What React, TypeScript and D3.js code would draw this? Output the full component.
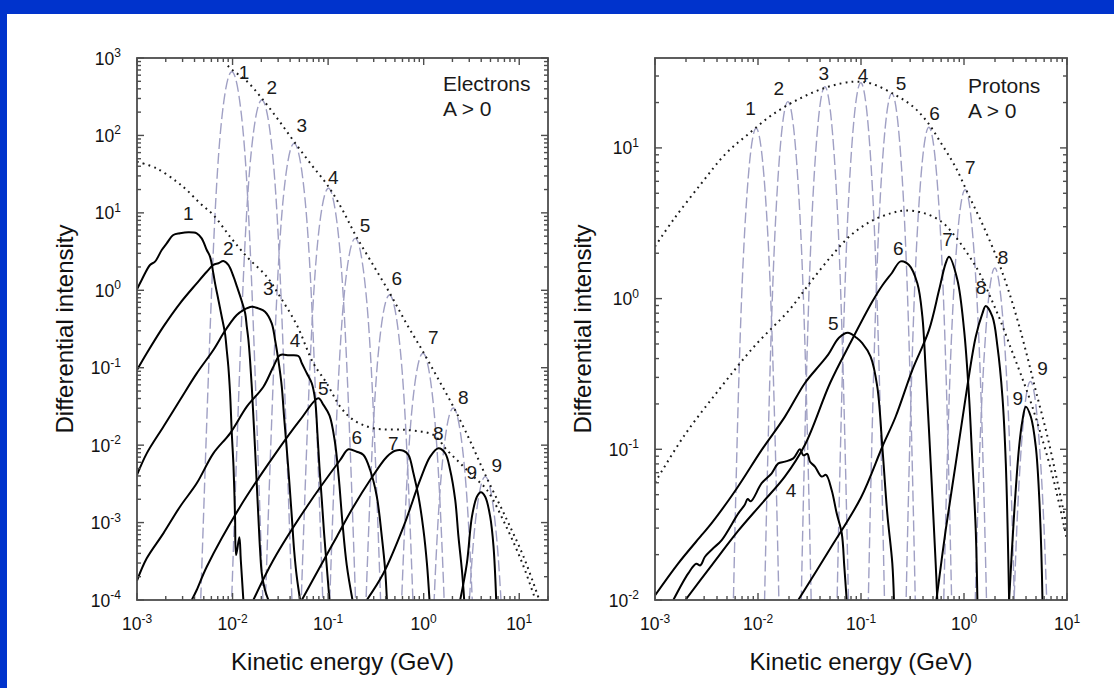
import React from "react";
import * as d3 from "d3";

// Every curve point is [log10 kinetic energy (GeV), log10 differential intensity].
type Pt = [number, number];
type Label = [string, number, number];

// ---------- Electrons, A > 0 ----------
const eUpperEnvelope: Pt[] = [
  [-2.05, 2.9], [-2.008, 2.85], [-1.85, 2.7], [-1.694, 2.48], [-1.52, 2.2], [-1.356, 1.92],
  [-1.18, 1.63], [-0.997, 1.34], [-0.85, 1.04], [-0.717, 0.72], [-0.55, 0.37], [-0.358, -0.03],
  [-0.18, -0.43], [-0.008, -0.79], [0.15, -1.14], [0.309, -1.5], [0.48, -1.93], [0.644, -2.38],
  [0.85, -2.91], [1.045, -3.44], [1.21, -4.0],
];
const eLowerEnvelope: Pt[] = [
  [-3, 1.661], [-2.795, 1.575], [-2.584, 1.402], [-2.48, 1.295], [-2.34, 1.123], [-2.201, 0.973],
  [-2.026, 0.692], [-1.851, 0.434], [-1.642, 0.176], [-1.503, -0.083], [-1.328, -0.448],
  [-1.154, -0.943], [-1.014, -1.201], [-0.874, -1.503], [-0.735, -1.675], [-0.526, -1.782],
  [-0.176, -1.804], [0.103, -1.869], [0.243, -2.063], [0.382, -2.234], [0.522, -2.407],
  [0.662, -2.579], [0.871, -3.07], [1.04, -3.55], [1.17, -4.0],
];

const eSource1: Pt[] = [[-2.338, -4.177], [-2.208, 0.323], [-2.108, 2.273], [-2.008, 2.823], [-1.908, 2.273], [-1.808, 0.323], [-1.678, -4.177]];
const eSource2: Pt[] = [[-2.024, -4.542], [-1.894, -0.042], [-1.794, 1.908], [-1.694, 2.458], [-1.594, 1.908], [-1.494, -0.042], [-1.364, -4.542]];
const eSource3: Pt[] = [[-1.686, -5.102], [-1.556, -0.602], [-1.456, 1.348], [-1.356, 1.898], [-1.256, 1.348], [-1.156, -0.602], [-1.026, -5.102]];
const eSource4: Pt[] = [[-1.327, -5.683], [-1.197, -1.183], [-1.097, 0.767], [-0.997, 1.317], [-0.897, 0.767], [-0.797, -1.183], [-0.667, -5.683]];
const eSource5: Pt[] = [[-1.047, -6.33], [-0.917, -1.83], [-0.817, 0.12], [-0.717, 0.67], [-0.617, 0.12], [-0.517, -1.83], [-0.387, -6.33]];
const eSource6: Pt[] = [[-0.688, -7.061], [-0.558, -2.561], [-0.458, -0.611], [-0.358, -0.061], [-0.258, -0.611], [-0.158, -2.561], [-0.028, -7.061]];
const eSource7: Pt[] = [[-0.338, -7.814], [-0.208, -3.314], [-0.108, -1.364], [-0.008, -0.814], [0.092, -1.364], [0.192, -3.314], [0.322, -7.814]];
const eSource8: Pt[] = [[-0.021, -8.52], [0.109, -4.02], [0.209, -2.07], [0.309, -1.52], [0.409, -2.07], [0.509, -4.02], [0.639, -8.52]];
const eSource9: Pt[] = [[0.314, -9.407], [0.444, -4.907], [0.544, -2.957], [0.644, -2.407], [0.744, -2.957], [0.844, -4.907], [0.974, -9.407]];

const eMod1: Pt[] = [
  [-3, 0.013], [-2.951, 0.133], [-2.864, 0.327], [-2.812, 0.37], [-2.741, 0.52], [-2.689, 0.606],
  [-2.62, 0.714], [-2.55, 0.736], [-2.463, 0.749], [-2.375, 0.736], [-2.323, 0.671], [-2.27, 0.52],
  [-2.236, 0.434], [-2.201, 0.219], [-2.183, 0.09], [-2.148, -0.125], [-2.113, -0.341],
  [-2.079, -0.556], [-2.061, -0.771], [-2.044, -0.987], [-2.026, -1.33], [-2.008, -1.847],
  [-1.99, -2.278], [-1.974, -2.924], [-1.963, -3.419], [-1.929, -3.19], [-1.914, -3.48], [-1.887, -4.0],
];
const eMod2: Pt[] = [
  [-3, -1.03], [-2.898, -0.814], [-2.724, -0.47], [-2.55, -0.168], [-2.375, 0.09], [-2.27, 0.24],
  [-2.201, 0.327], [-2.148, 0.349], [-2.096, 0.378], [-2.044, 0.327], [-1.99, 0.176], [-1.954, 0.047],
  [-1.902, -0.147], [-1.868, -0.297], [-1.851, -0.469], [-1.834, -0.642], [-1.817, -0.9],
  [-1.799, -1.245], [-1.782, -1.633], [-1.764, -2.063], [-1.747, -2.494], [-1.73, -2.924],
  [-1.712, -3.354], [-1.694, -3.656], [-1.66, -3.875], [-1.625, -4.0],
];
const eMod3: Pt[] = [
  [-3, -2.385], [-2.898, -2.106], [-2.724, -1.762], [-2.55, -1.417], [-2.375, -1.073], [-2.201, -0.771],
  [-2.096, -0.556], [-2.026, -0.427], [-1.956, -0.319], [-1.887, -0.255], [-1.799, -0.212],
  [-1.73, -0.233], [-1.66, -0.276], [-1.59, -0.427], [-1.555, -0.642], [-1.521, -0.9],
  [-1.485, -1.245], [-1.461, -1.633], [-1.432, -2.063], [-1.405, -2.494], [-1.38, -2.924],
  [-1.356, -3.354], [-1.328, -3.699], [-1.293, -4.0],
];
const eMod4: Pt[] = [
  [-3, -3.75], [-2.898, -3.462], [-2.724, -3.139], [-2.55, -2.795], [-2.375, -2.493], [-2.201, -2.106],
  [-2.026, -1.847], [-1.851, -1.503], [-1.677, -1.245], [-1.573, -0.987], [-1.503, -0.836],
  [-1.41, -0.84], [-1.311, -0.849], [-1.275, -0.943], [-1.223, -1.072], [-1.171, -1.201],
  [-1.136, -1.417], [-1.112, -1.847], [-1.091, -2.278], [-1.066, -2.708], [-1.042, -3.139],
  [-1.014, -3.57], [-0.986, -4.0],
];
const eMod5: Pt[] = [
  [-2.427, -4.0], [-2.375, -3.871], [-2.27, -3.57], [-1.921, -2.795], [-1.573, -2.149], [-1.293, -1.675],
  [-1.102, -1.395], [-1.049, -1.48], [-0.985, -1.62], [-0.93, -1.95], [-0.89, -2.4], [-0.85, -3.0],
  [-0.805, -3.55], [-0.745, -4.0],
];
const eMod6: Pt[] = [
  [-1.782, -4.0], [-1.573, -3.483], [-1.223, -2.795], [-0.874, -2.192], [-0.787, -2.054], [-0.7, -2.085],
  [-0.63, -2.127], [-0.56, -2.321], [-0.49, -2.666], [-0.438, -3.182], [-0.403, -3.612], [-0.385, -4.0],
];
const eMod7: Pt[] = [
  [-1.275, -4.0], [-1.084, -3.57], [-0.909, -3.182], [-0.735, -2.795], [-0.56, -2.45], [-0.385, -2.149],
  [-0.298, -2.072], [-0.212, -2.072], [-0.159, -2.127], [-0.107, -2.364], [-0.054, -2.666],
  [-0.002, -3.096], [0.034, -3.526], [0.061, -4.0],
];
const eMod8: Pt[] = [
  [-0.595, -4.0], [-0.421, -3.655], [-0.211, -3.053], [-0.037, -2.45], [0.068, -2.149], [0.155, -2.041],
  [0.225, -2.105], [0.277, -2.321], [0.33, -2.708], [0.364, -3.182], [0.4, -3.612], [0.424, -4.0],
];
const eMod9: Pt[] = [
  [0.382, -4.0], [0.452, -3.526], [0.505, -2.924], [0.557, -2.666], [0.599, -2.609], [0.644, -2.666],
  [0.696, -2.924], [0.731, -3.311], [0.759, -4.0],
];

const eSourceLabels: Label[] = [
  ["1", -1.88, 2.823], ["2", -1.59, 2.629], ["3", -1.276, 2.135], ["4", -0.946, 1.467], ["5", -0.614, 0.843],
  ["6", -0.282, 0.155], ["7", 0.101, -0.599], ["8", 0.415, -1.374], ["9", 0.764, -2.256],
];
const eModLabels: Label[] = [
  ["1", -2.463, 0.994], ["2", -2.045, 0.542], ["3", -1.626, 0.026], ["4", -1.347, -0.642], ["5", -1.05, -1.266],
  ["6", -0.701, -1.891], ["7", -0.318, -1.976], ["8", 0.153, -1.847], ["9", 0.503, -2.343],
];

// ---------- Protons, A > 0 ----------
const pUpperEnvelope: Pt[] = [
  [-3, 0.346], [-2.822, 0.523], [-2.548, 0.766], [-2.309, 0.965], [-2.104, 1.086], [-1.864, 1.219],
  [-1.59, 1.329], [-1.317, 1.406], [-1.077, 1.439], [-0.906, 1.428], [-0.666, 1.351], [-0.495, 1.274],
  [-0.358, 1.174], [-0.222, 1.031], [-0.085, 0.876], [0.052, 0.677], [0.189, 0.479], [0.326, 0.258],
  [0.429, 0.06], [0.531, -0.17], [0.62, -0.4], [0.7, -0.62], [0.805, -0.9], [0.908, -1.22], [1.0, -1.52],
];
const pLowerEnvelope: Pt[] = [
  [-3, -1.221], [-2.719, -0.912], [-2.377, -0.603], [-2.035, -0.316], [-1.693, -0.073], [-1.522, 0.081],
  [-1.317, 0.258], [-1.111, 0.413], [-0.906, 0.512], [-0.701, 0.568], [-0.564, 0.585], [-0.393, 0.568],
  [-0.222, 0.512], [-0.085, 0.413], [0.052, 0.28], [0.15, 0.17], [0.25, 0.02], [0.35, -0.14],
  [0.45, -0.32], [0.55, -0.5], [0.65, -0.69], [0.75, -0.91], [0.85, -1.15], [0.93, -1.38], [1.0, -1.6],
];

const pSource1: Pt[] = [[-2.348, -5.87], [-2.218, -1.37], [-2.118, 0.58], [-2.018, 1.13], [-1.918, 0.58], [-1.818, -1.37], [-1.688, -5.87]];
const pSource2: Pt[] = [[-2.04, -5.693], [-1.91, -1.193], [-1.81, 0.757], [-1.71, 1.307], [-1.61, 0.757], [-1.51, -1.193], [-1.38, -5.693]];
const pSource3: Pt[] = [[-1.681, -5.594], [-1.551, -1.094], [-1.451, 0.856], [-1.351, 1.406], [-1.251, 0.856], [-1.151, -1.094], [-1.021, -5.594]];
const pSource4: Pt[] = [[-1.332, -5.568], [-1.202, -1.068], [-1.102, 0.882], [-1.002, 1.432], [-0.902, 0.882], [-0.802, -1.068], [-0.672, -5.568]];
const pSource5: Pt[] = [[-1.031, -5.638], [-0.901, -1.138], [-0.801, 0.812], [-0.701, 1.362], [-0.601, 0.812], [-0.501, -1.138], [-0.371, -5.638]];
const pSource6: Pt[] = [[-0.671, -5.863], [-0.541, -1.363], [-0.441, 0.587], [-0.341, 1.137], [-0.241, 0.587], [-0.141, -1.363], [-0.011, -5.863]];
const pSource7: Pt[] = [[-0.319, -6.278], [-0.189, -1.778], [-0.089, 0.172], [0.011, 0.722], [0.111, 0.172], [0.211, -1.778], [0.341, -6.278]];
const pSource8: Pt[] = [[-0.031, -6.797], [0.099, -2.297], [0.199, -0.347], [0.299, 0.203], [0.399, -0.347], [0.499, -2.297], [0.629, -6.797]];
const pSource9: Pt[] = [[0.315, -7.55], [0.445, -3.05], [0.545, -1.1], [0.645, -0.55], [0.745, -1.1], [0.845, -3.05], [0.975, -7.55]];

const pMod4: Pt[] = [
  [-2.822, -2.0], [-2.677, -1.823], [-2.6, -1.76], [-2.56, -1.77], [-2.515, -1.713], [-2.44, -1.66],
  [-2.352, -1.602], [-2.191, -1.425], [-2.13, -1.37], [-2.1, -1.33], [-2.07, -1.345], [-1.964, -1.225],
  [-1.867, -1.159], [-1.803, -1.093], [-1.738, -1.082], [-1.657, -1.06], [-1.592, -1.0], [-1.56, -1.04],
  [-1.52, -1.03], [-1.495, -1.082], [-1.447, -1.115], [-1.382, -1.181], [-1.34, -1.17], [-1.285, -1.27],
  [-1.236, -1.425], [-1.187, -1.557], [-1.162, -1.779], [-1.139, -2.0],
];
const pMod5: Pt[] = [
  [-3.0, -1.97], [-2.774, -1.757], [-2.548, -1.57], [-2.45, -1.49], [-2.206, -1.26], [-1.964, -1.004],
  [-1.738, -0.783], [-1.544, -0.56], [-1.4, -0.44], [-1.317, -0.37], [-1.214, -0.26], [-1.128, -0.227],
  [-1.043, -0.26], [-0.988, -0.296], [-0.907, -0.385], [-0.842, -0.584], [-0.793, -0.983],
  [-0.745, -1.425], [-0.696, -1.757], [-0.68, -2.0],
];
const pMod6: Pt[] = [
  [-2.705, -2.0], [-2.45, -1.77], [-2.191, -1.54], [-1.964, -1.36], [-1.738, -1.18], [-1.544, -0.97],
  [-1.3, -0.56], [-1.1, -0.29], [-0.89, -0.02], [-0.79, 0.09], [-0.7, 0.17], [-0.615, 0.247],
  [-0.534, 0.223], [-0.453, 0.102], [-0.404, -0.12], [-0.372, -0.474], [-0.34, -0.873],
  [-0.307, -1.315], [-0.275, -1.758], [-0.259, -2.0],
];
const pMod7: Pt[] = [
  [-1.609, -2.0], [-1.3, -1.66], [-1.0, -1.32], [-0.793, -0.983], [-0.664, -0.784], [-0.502, -0.474],
  [-0.34, -0.209], [-0.242, 0.057], [-0.178, 0.234], [-0.145, 0.278], [-0.064, 0.124], [0.001, -0.209],
  [0.049, -0.651], [0.082, -1.094], [0.114, -1.537], [0.13, -2.0],
];
const pMod8: Pt[] = [
  [-0.268, -2.0], [-0.178, -1.537], [-0.08, -1.094], [0.017, -0.651], [0.114, -0.253], [0.179, -0.098],
  [0.211, -0.049], [0.276, -0.12], [0.325, -0.319], [0.373, -0.651], [0.406, -1.094], [0.438, -2.0],
];
const pMod9: Pt[] = [
  [0.438, -2.0], [0.487, -1.425], [0.535, -0.983], [0.568, -0.806], [0.6, -0.717], [0.649, -0.784],
  [0.697, -0.983], [0.73, -1.315], [0.762, -2.0],
];

const pSourceLabels: Label[] = [
  ["1", -2.072, 1.263], ["2", -1.798, 1.396], ["3", -1.361, 1.496], ["4", -0.98, 1.485], ["5", -0.611, 1.429],
  ["6", -0.286, 1.234], ["7", 0.062, 0.876], ["8", 0.38, 0.279], ["9", 0.762, -0.462],
];
const pModLabels: Label[] = [
  ["4", -1.68, -1.27], ["5", -1.269, -0.163], ["6", -0.638, 0.334], ["7", -0.16, 0.394],
  ["8", 0.165, 0.079], ["9", 0.523, -0.661],
];

// Axis decades
const eXExps = [-3, -2, -1, 0, 1];
const eYExps = [-4, -3, -2, -1, 0, 1, 2, 3];
const pXExps = [-3, -2, -1, 0, 1];
const pYExps = [-2, -1, 0, 1];

const X_TITLE = "Kinetic energy (GeV)";
const Y_TITLE = "Differential intensity";

const FONT = "'Liberation Sans', Arial, Helvetica, sans-serif";
const FRAME = "#4d4d4d";
const DASH = "#a0a0c4";

interface PanelProps {
  id: string;
  left: number;
  right: number;
  top: number;
  bottom: number;
  xDomain: [number, number];
  yDomain: [number, number];
  xExps: number[];
  yExps: number[];
  sources: Pt[][];
  modulated: Pt[][];
  envelopes: Pt[][];
  sourceLabels: Label[];
  modLabels: Label[];
  species: string;
  legendDx: number;
  legendY: number;
}

function logTicks(domain: [number, number]) {
  const out: { v: number; major: boolean }[] = [];
  const lo = Math.floor(Math.log10(domain[0]));
  const hi = Math.ceil(Math.log10(domain[1]));
  for (let e = lo; e <= hi; e++) {
    for (let m = 1; m < 10; m++) {
      const v = m * Math.pow(10, e);
      if (v >= domain[0] * 0.999 && v <= domain[1] * 1.001) out.push({ v, major: m === 1 });
    }
  }
  return out;
}

function Panel(p: PanelProps) {
  const { left, right, top, bottom } = p;
  const x = d3.scaleLog().domain(p.xDomain).range([left, right]);
  const y = d3.scaleLog().domain(p.yDomain).range([bottom, top]);
  const px = (d: Pt) => x(Math.pow(10, d[0]));
  const py = (d: Pt) => y(Math.pow(10, d[1]));
  const smooth = d3.line<Pt>().x(px).y(py).curve(d3.curveCatmullRom.alpha(0.5));
  const rounded = d3.line<Pt>().x(px).y(py).curve(d3.curveNatural);
  const clip = `clip-${p.id}`;
  const xt = logTicks(p.xDomain);
  const yt = logTicks(p.yDomain);
  const MAJ = 7;
  const MIN = 4;
  const midX = (left + right) / 2;
  const midY = (top + bottom) / 2;

  return (
    <g fontFamily={FONT}>
      <defs>
        <clipPath id={clip}>
          <rect x={left} y={top} width={right - left} height={bottom - top} />
        </clipPath>
      </defs>
      <g clipPath={`url(#${clip})`} fill="none">
        {p.sources.map((s, i) => (
          <path key={`s${i}`} d={rounded(s) || ""} stroke={DASH} strokeWidth={1.4} strokeDasharray="11 4" />
        ))}
        {p.envelopes.map((s, i) => (
          <path key={`e${i}`} d={smooth(s) || ""} stroke="#1a1a1a" strokeWidth={2} strokeDasharray="1.8 4.2" />
        ))}
        {p.modulated.map((s, i) => (
          <path key={`m${i}`} d={smooth(s) || ""} stroke="#000" strokeWidth={2} strokeLinejoin="round" />
        ))}
      </g>
      {/* frame and mirrored inward ticks */}
      <g stroke={FRAME} strokeWidth={1.4}>
        {xt.map((t, i) => {
          const xx = x(t.v);
          const l = t.major ? MAJ : MIN;
          return (
            <g key={`xt${i}`}>
              <line x1={xx} x2={xx} y1={bottom} y2={bottom - l} />
              <line x1={xx} x2={xx} y1={top} y2={top + l} />
            </g>
          );
        })}
        {yt.map((t, i) => {
          const yy = y(t.v);
          const l = t.major ? MAJ : MIN;
          return (
            <g key={`yt${i}`}>
              <line x1={left} x2={left + l} y1={yy} y2={yy} />
              <line x1={right} x2={right - l} y1={yy} y2={yy} />
            </g>
          );
        })}
        <rect x={left} y={top} width={right - left} height={bottom - top} fill="none" strokeWidth={1.8} />
      </g>
      {/* tick labels */}
      <g fill="#111" fontSize={17.5}>
        {p.xExps.map((e) => (
          <text key={`xl${e}`} x={x(Math.pow(10, e))} y={bottom + 30} textAnchor="middle">
            10<tspan dy={-7.5} fontSize={12}>{String(e)}</tspan>
          </text>
        ))}
        {p.yExps.map((e) => (
          <text key={`yl${e}`} x={left - 16} y={y(Math.pow(10, e)) + 6.5} textAnchor="end">
            10<tspan dy={-7.5} fontSize={12}>{String(e)}</tspan>
          </text>
        ))}
      </g>
      {/* curve numbers */}
      <g fill="#1a1a1a" fontSize={19} textAnchor="middle">
        {p.sourceLabels.concat(p.modLabels).map((l, i) => (
          <text key={`n${i}`} x={x(Math.pow(10, l[1]))} y={y(Math.pow(10, l[2])) + 7}>
            {l[0]}
          </text>
        ))}
      </g>
      {/* species legend */}
      <g fill="#1a1a1a" fontSize={21}>
        <text x={right - p.legendDx} y={top + p.legendY}>{p.species}</text>
        <text x={right - p.legendDx} y={top + p.legendY + 25}>{"A > 0"}</text>
      </g>
      {/* axis titles */}
      <text x={midX} y={bottom + 70} textAnchor="middle" fontSize={24} fill="#111">
        {X_TITLE}
      </text>
      <text
        transform={`translate(${left - 73},${midY}) rotate(-90)`}
        textAnchor="middle"
        dominantBaseline="central"
        fontSize={24}
        fill="#111"
      >
        {Y_TITLE}
      </text>
    </g>
  );
}

export default function App() {
  const W = 1114;
  const H = 688;
  return (
    <div style={{ position: "absolute", left: 0, top: 0, width: W, height: H }}>
      <svg width={W} height={H} viewBox={`0 0 ${W} ${H}`} style={{ display: "block" }}>
        <rect x={0} y={0} width={W} height={H} fill="#ffffff" />
        <rect x={0} y={0} width={W} height={14} fill="#0033cc" />
        <rect x={0} y={0} width={7} height={H} fill="#0033cc" />
        <Panel
          id="electrons"
          left={137}
          right={548}
          top={58}
          bottom={600}
          xDomain={[1e-3, 20]}
          yDomain={[1e-4, 1e3]}
          xExps={eXExps}
          yExps={eYExps}
          sources={[eSource1, eSource2, eSource3, eSource4, eSource5, eSource6, eSource7, eSource8, eSource9]}
          modulated={[eMod1, eMod2, eMod3, eMod4, eMod5, eMod6, eMod7, eMod8, eMod9]}
          envelopes={[eUpperEnvelope, eLowerEnvelope]}
          sourceLabels={eSourceLabels}
          modLabels={eModLabels}
          species="Electrons"
          legendDx={105}
          legendY={33}
        />
        <Panel
          id="protons"
          left={655}
          right={1067}
          top={58}
          bottom={600}
          xDomain={[1e-3, 10]}
          yDomain={[1e-2, 39.5]}
          xExps={pXExps}
          yExps={pYExps}
          sources={[pSource1, pSource2, pSource3, pSource4, pSource5, pSource6, pSource7, pSource8, pSource9]}
          modulated={[pMod4, pMod5, pMod6, pMod7, pMod8, pMod9]}
          envelopes={[pUpperEnvelope, pLowerEnvelope]}
          sourceLabels={pSourceLabels}
          modLabels={pModLabels}
          species="Protons"
          legendDx={99}
          legendY={35}
        />
      </svg>
    </div>
  );
}
